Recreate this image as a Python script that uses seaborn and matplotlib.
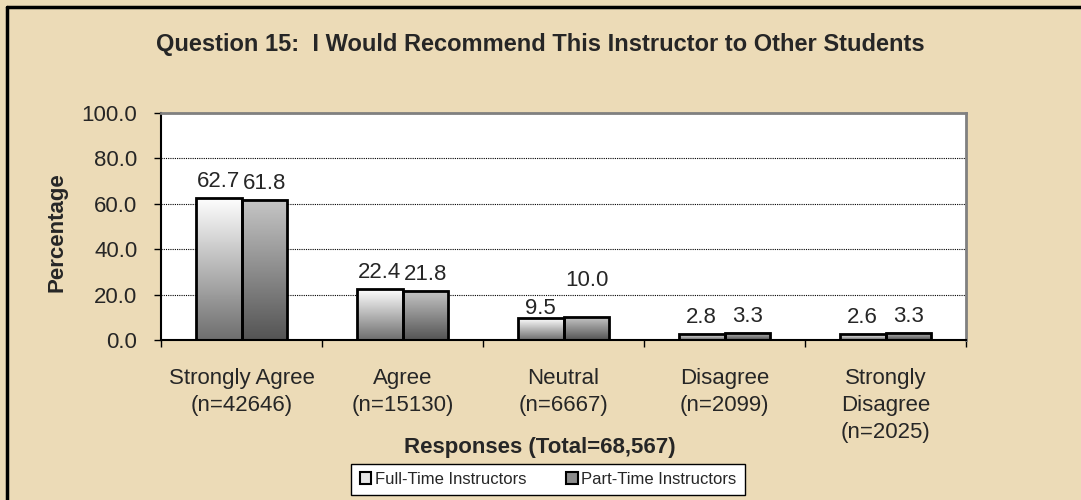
import numpy as np
import pandas as pd
import matplotlib
matplotlib.use("Agg")
import matplotlib.pyplot as plt
import seaborn as sns
from matplotlib.colors import LinearSegmentedColormap
from matplotlib.patches import Patch
from matplotlib.lines import Line2D
from matplotlib.ticker import FormatStrFormatter

# ---- data ----
categories = ["Strongly Agree\n(n=42646)", "Agree\n(n=15130)", "Neutral\n(n=6667)",
              "Disagree\n(n=2099)", "Strongly\nDisagree\n(n=2025)"]
series = ["Full-Time Instructors", "Part-Time Instructors"]
full_time = [62.7, 22.4, 9.5, 2.8, 2.6]
part_time = [61.8, 21.8, 10.0, 3.3, 3.3]
y_ticks = [0, 20, 40, 60, 80, 100]
title = "Question 15:  I Would Recommend This Instructor to Other Students"
x_title = "Responses (Total=68,567)"
y_title = "Percentage"

sns.set_style("white")
plt.rcParams["font.family"] = ["Liberation Sans", "DejaVu Sans"]

df = pd.DataFrame({
    "Response": categories * 2,
    "Series": [series[0]] * len(categories) + [series[1]] * len(categories),
    "Percentage": full_time + part_time,
})

W, H = 1081, 500
BG = "#ECDBB7"
fig = plt.figure(figsize=(W / 100, H / 100), dpi=100, facecolor=BG)
ax = fig.add_axes([161 / W, 1 - 340 / H, (966 - 161) / W, (340 - 113) / H])
ax.set_facecolor("white")

sns.barplot(data=df, x="Response", y="Percentage", hue="Series", order=categories,
            hue_order=series, width=0.57, dodge=True, palette=["#dddddd", "#999999"],
            saturation=1, edgecolor="black", linewidth=2, legend=False, ax=ax)

# gradient fills
grads = [("#6e6e6e", "#ffffff"), ("#545454", "#c6c6c6")]  # (bottom, top)
grad_img = np.linspace(0, 1, 256).reshape(-1, 1)
for i, cont in enumerate(ax.containers):
    cmap = LinearSegmentedColormap.from_list(f"g{i}", list(grads[i]))
    for bar in cont:
        x0, w, h = bar.get_x(), bar.get_width(), bar.get_height()
        ax.imshow(grad_img, extent=[x0, x0 + w, 0, h], origin="lower", aspect="auto",
                  cmap=cmap, zorder=2, interpolation="bilinear")
        bar.set_facecolor("none")
        bar.set_zorder(3)

ax.set_xlim(-0.5, len(categories) - 0.5)
ax.set_ylim(0, 100)

# data labels (baseline offsets in pixels)
offsets = [[11, 11, 4, 11, 11], [11, 11, 31, 11, 11]]
for i, cont in enumerate(ax.containers):
    for j, bar in enumerate(cont):
        val = bar.get_height()
        ax.annotate(f"{val:.1f}", (bar.get_x() + bar.get_width() / 2, val),
                    xytext=(0, offsets[i][j]), textcoords="offset pixels",
                    ha="center", va="baseline", fontsize=16, zorder=5)

# axes styling
ax.set_xticks(range(len(categories)))
ax.set_xticklabels(categories, fontsize=16)
for t in ax.get_xticklabels():
    t.set_linespacing(1.35)
ax.tick_params(axis="x", which="major", length=0, pad=20.5, bottom=True)
ax.set_xticks(np.arange(-0.5, len(categories), 1), minor=True)
ax.tick_params(axis="x", which="minor", length=5, width=1, color="black",
               direction="out", bottom=True)
ax.set_yticks(y_ticks)
ax.yaxis.set_major_formatter(FormatStrFormatter("%.1f"))
ax.tick_params(axis="y", length=5, width=1, color="black", direction="out",
               pad=12, labelsize=16, left=True)
ax.set_xlabel("")
ax.set_ylabel("")
ax.set_axisbelow(True)
ax.yaxis.grid(True, linestyle=(0, (1, 1)), color="black", linewidth=0.8)
for s in ["left", "bottom"]:
    ax.spines[s].set_color("black")
    ax.spines[s].set_linewidth(1.5)
for s in ["top", "right"]:
    ax.spines[s].set_color("#808080")
    ax.spines[s].set_linewidth(2)

# texts
fig.text(540 / W, 1 - 45 / H, title, ha="center", va="center", fontsize=17, fontweight="bold")
fig.text(57 / W, 1 - 232 / H, y_title, rotation=90, ha="center", va="center",
         fontsize=16, fontweight="bold")
fig.text(540 / W, 1 - 447 / H, x_title, ha="center", va="center", fontsize=16,
         fontweight="bold")

# legend
handles = [Patch(facecolor="#e6e6e6", edgecolor="black", linewidth=1.5),
           Patch(facecolor="#8c8c8c", edgecolor="black", linewidth=1.5)]
leg = fig.legend(handles=handles, labels=series, loc="center",
                 bbox_to_anchor=(548 / W, 1 - 479.5 / H), ncol=2, frameon=True,
                 fontsize=12, handlelength=0.7, handleheight=0.7, handletextpad=0.2,
                 columnspacing=2.4, borderpad=0.5, fancybox=False, framealpha=1,
                 edgecolor="black")
leg.get_frame().set_linewidth(1)
leg.get_frame().set_facecolor("white")

# outer frame
fig.add_artist(Line2D([7 / W, 7 / W], [0, 1 - 7 / H], color="black", lw=2.5,
                      transform=fig.transFigure))
fig.add_artist(Line2D([7 / W, 1], [1 - 7 / H, 1 - 7 / H], color="black", lw=2.5,
                      transform=fig.transFigure))

fig.savefig("out.png", dpi=100, facecolor=BG)
